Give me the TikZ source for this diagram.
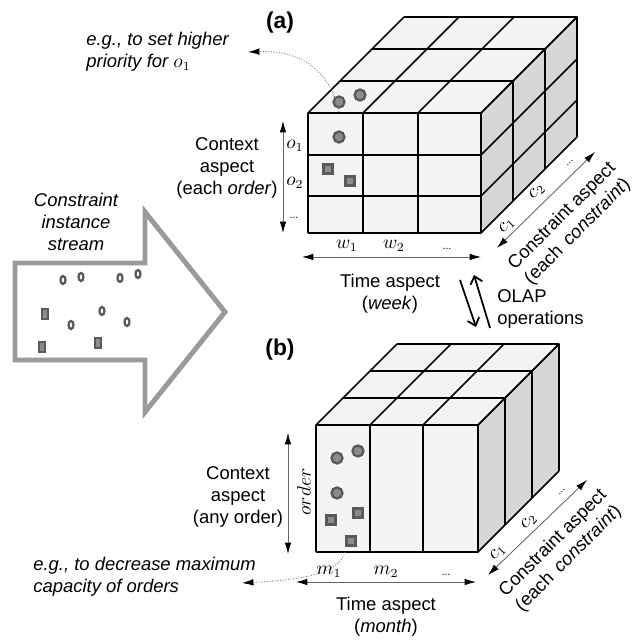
\documentclass[tikz,border=0pt]{standalone}
\usepackage{amsmath}
\usepackage{fontspec}
\setmainfont{Liberation Sans}
\usetikzlibrary{arrows.meta}

\definecolor{facelight}{HTML}{F4F4F4}
\definecolor{faceside}{HTML}{D6D6D6}
\definecolor{arrowgray}{HTML}{9A9A9A}
\definecolor{dotfill}{HTML}{8C8C8C}
\definecolor{dotline}{HTML}{5A5A5A}

\tikzset{
  edge/.style={draw=black, line width=0.9pt, line join=round},
  axis/.style={draw=black!60, line width=0.5pt,
    {Latex[length=6.5pt,width=3.8pt,black]}-{Latex[length=6.5pt,width=3.8pt,black]}},
  hint/.style={draw=black!55, densely dotted, line width=0.5pt,
    -{Latex[length=6.5pt,width=3.8pt,black]}},
  olap/.style={draw=black, line width=1pt, -{Straight Barb[length=4pt,width=7pt]}},
  dotc/.style={draw=dotline, fill=dotfill, line width=1.3pt},
  dotsq/.style={draw=dotline, fill=dotfill, line width=1.3pt},
  ring/.style={draw=dotline, line width=1.3pt},
  lbl/.style={font=\fontsize{10.5}{12.5}\selectfont, align=center, inner sep=0pt},
  dots/.style={font=\fontsize{6}{7}\selectfont, inner sep=0pt},
  tag/.style={font=\fontsize{13}{15}\selectfont\bfseries, inner sep=0pt},
}

\begin{document}
\begin{tikzpicture}[x=0.02cm, y=-0.02cm]
  \useasboundingbox (0,0) rectangle (642,641);

  % stream arrow
  \draw[arrowgray, line width=2.8pt, line join=miter]
    (15,263) -- (145,263) -- (145,212) -- (225,312) -- (145,412) -- (145,360) -- (15,360) -- cycle;
  \node[lbl, font=\fontsize{10.5}{12.5}\selectfont\itshape] (stream) at (76,222) {Constraint\\instance\\stream};
  \foreach \p in {(63,280),(81,277),(120,278),(138,274),(102,311),(71,325),(127,322)}
    \draw[ring] \p ellipse[x radius=0.05cm, y radius=0.08cm];
  \foreach \p in {(45,314),(42,347),(98,343)}
    \draw[dotsq] \p ++(-3,-5) rectangle ++(6,10);

  % cube (a)
  \fill[facelight] (308,113) rectangle (481,233);
  \fill[facelight] (308,113) -- (404,17) -- (577,17) -- (481,113) -- cycle;
  \fill[faceside] (481,113) -- (577,17) -- (577,137) -- (481,233) -- cycle;
  \foreach \x in {308,363,418,481} \draw[edge] (\x,233) -- (\x,113) -- ++(96,-96);
  \foreach \y in {113,155,196,233} \draw[edge] (308,\y) -- (481,\y) -- ++(96,-96);
  \foreach \k in {1,2,3} \draw[edge] (308+32*\k,113-32*\k) -- ++(173,0) -- ++(0,120);
  % instances in (a)
  \foreach \p in {(339,102),(360,95),(339,137)} \draw[dotc] \p circle[radius=0.11cm];
  \foreach \p in {(328,169),(350,181)} \draw[dotsq] \p ++(-4.5,-4.5) rectangle ++(9,9);

  \node[tag] (taga) at (280,23) {(a)};
  \node[lbl, font=\fontsize{10.5}{12.5}\selectfont\itshape, align=left, anchor=west] (hinta) at (86,52)
    {e.g., to set higher\\priority for $o_1$};
  \coordinate (srca) at (339,112);
  \coordinate (enda) at (248,52);
  \draw[hint] (srca) .. controls (330,70) and (300,50) .. (enda);

  % context axis (a)
  \coordinate (ca1) at (283,121);
  \coordinate (ca2) at (283,233);
  \draw[axis] (ca1) -- (ca2);
  \node[lbl] (ctxa) at (227,168) {Context\\aspect\\(each \textit{order})};
  \node[lbl] (oa1) at (295,146) {$o_1$};
  \node[lbl] (oa2) at (295,183) {$o_2$};
  \node[dots] (oa3) at (294,218) {...};

  % time axis (a)
  \coordinate (ta1) at (302,257);
  \coordinate (ta2) at (481,257);
  \draw[axis] (ta1) -- (ta2);
  \node[lbl] (wa1) at (347,246) {$w_1$};
  \node[lbl] (wa2) at (394,246) {$w_2$};
  \node[dots] (wa3) at (447,249) {...};
  \node[lbl] (timea) at (390,294) {Time aspect\\(\textit{week})};

  % constraint axis (a)
  \coordinate (ka1) at (497,248);
  \coordinate (ka2) at (595,152);
  \draw[axis] (ka1) -- (ka2);
  \node[lbl, rotate=45] (kc1) at (507,226) {$c_1$};
  \node[lbl, rotate=45] (kc2) at (537,192) {$c_2$};
  \node[dots, rotate=45] (kc3) at (570,163) {...};
  \node[lbl, rotate=45] (consa) at (570,224) {Constraint aspect\\(each \,\textit{constraint})};

  % OLAP operations
  \coordinate (op1) at (460,280);
  \coordinate (op2) at (476,327);
  \coordinate (op3) at (490,328);
  \coordinate (op4) at (474,275);
  \draw[olap] (op1) -- (op2);
  \draw[olap] (op3) -- (op4);
  \node[lbl, align=left, anchor=west] (olap) at (497,309) {OLAP\\operations};

  % cube (b)
  \fill[facelight] (316,425) rectangle (478,552);
  \fill[facelight] (316,425) -- (397,344) -- (559,344) -- (478,425) -- cycle;
  \fill[faceside] (478,425) -- (559,344) -- (559,471) -- (478,552) -- cycle;
  \foreach \x in {316,370,423,478} \draw[edge] (\x,552) -- (\x,425) -- ++(81,-81);
  \foreach \y in {425,552} \draw[edge] (316,\y) -- (478,\y) -- ++(81,-81);
  \foreach \k in {1,2,3} \draw[edge] (316+27*\k,425-27*\k) -- ++(162,0) -- ++(0,127);
  % instances in (b)
  \foreach \p in {(337,458),(358,451),(337,493)} \draw[dotc] \p circle[radius=0.11cm];
  \foreach \p in {(331,520),(358,513),(351,541)} \draw[dotsq] \p ++(-4.5,-4.5) rectangle ++(9,9);

  \node[tag] (tagb) at (280,350) {(b)};
  \node[lbl, font=\fontsize{10.5}{12.5}\selectfont\itshape, align=left, anchor=west] (hintb) at (33,577)
    {e.g., to decrease maximum\\capacity of orders};
  \coordinate (srcb) at (345,552);
  \coordinate (endb) at (242,583);
  \draw[hint] (srcb) .. controls (338,576) and (295,580) .. (endb);

  % context axis (b)
  \coordinate (cb1) at (288,433);
  \coordinate (cb2) at (288,554);
  \draw[axis] (cb1) -- (cb2);
  \node[lbl] (ctxb) at (238,497) {Context\\aspect\\(any order)};
  \node[lbl, rotate=90] (ordb) at (304,492) {$order$};

  % time axis (b)
  \coordinate (tb1) at (296,582);
  \coordinate (tb2) at (476,582);
  \draw[axis] (tb1) -- (tb2);
  \node[lbl] (mb1) at (329,572) {$m_1$};
  \node[lbl] (mb2) at (386,572) {$m_2$};
  \node[dots] (mb3) at (446,575) {...};
  \node[lbl] (timeb) at (386,617) {Time aspect\\(\textit{month})};

  % constraint axis (b)
  \coordinate (kb1) at (488,575);
  \coordinate (kb2) at (587,480);
  \draw[axis] (kb1) -- (kb2);
  \node[lbl, rotate=45] (kd1) at (498,553) {$c_1$};
  \node[lbl, rotate=45] (kd2) at (529,522) {$c_2$};
  \node[dots, rotate=45] (kd3) at (562,492) {...};
  \node[lbl, rotate=45] (consb) at (561,551) {Constraint aspect\\(each \,\textit{constraint})};
\end{tikzpicture}
\end{document}
